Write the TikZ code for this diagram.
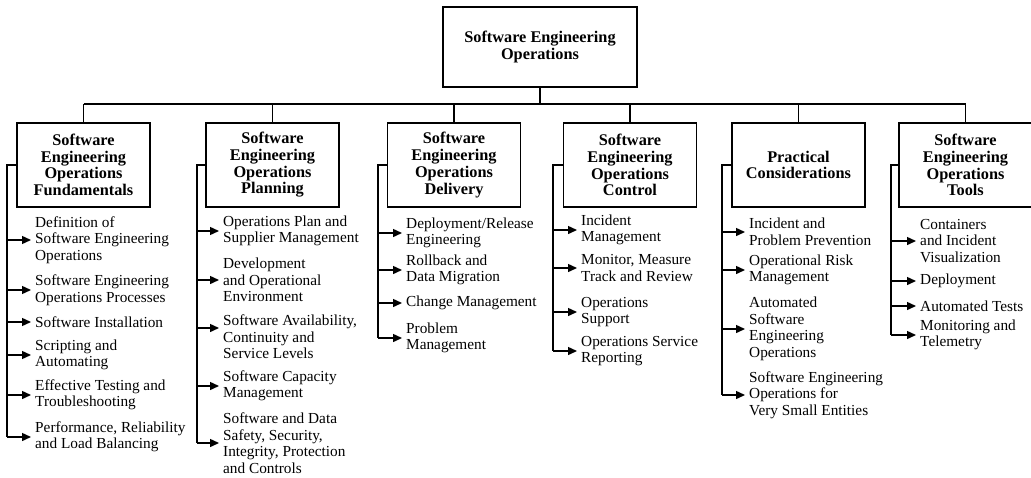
\documentclass[tikz,border=0pt]{standalone}
\usepackage{fontspec}
\setmainfont{Liberation Serif}
\usetikzlibrary{arrows.meta}

\begin{document}
\begin{tikzpicture}[x=1pt,y=-1pt,
    box/.style={draw,line width=1.5pt,minimum width=133pt,minimum height=84pt,
      align=center,inner sep=2pt,font=\fontsize{16.3}{16.7}\selectfont\bfseries},
    item/.style={anchor=west,align=left,inner xsep=4pt,inner ysep=0pt,
      font=\fontsize{15.3}{16.5}\selectfont},
    link/.style={line width=1.4pt},
    pointer/.style={line width=1.4pt,-{Triangle[length=9pt,width=8pt]}}]
        \useasboundingbox (0,0) rectangle (1031,477);

        \node[box,minimum width=194pt,minimum height=80pt] (top) at (540,47)
            {Software Engineering\\Operations};

        \node[box] (c1) at (83.5,165)  {Software\\Engineering\\Operations\\Fundamentals};
        \node[box] (c2) at (272.5,165) {Software\\Engineering\\Operations\\Planning};
        \node[box] (c3) at (454,165)   {Software\\Engineering\\Operations\\Delivery};
        \node[box] (c4) at (630,165)   {Software\\Engineering\\Operations\\Control};
        \node[box] (c5) at (798.5,165) {Practical\\Considerations};
        \node[box] (c6) at (965.5,165) {Software\\Engineering\\Operations\\Tools};

        \coordinate (bus) at (0,104);
        \coordinate (c1x) at (7,0);
        \coordinate (c2x) at (197,0);
        \coordinate (c3x) at (378,0);
        \coordinate (c4x) at (553,0);
        \coordinate (c5x) at (722,0);
        \coordinate (c6x) at (891,0);

        % fundamentals
        \node[item] (c1i1) at (31,240) {Definition of\\Software Engineering\\Operations};
        \node[item] (c1i2) at (31,290) {Software Engineering\\Operations Processes};
        \node[item] (c1i3) at (31,322) {Software Installation};
        \node[item] (c1i4) at (31,355) {Scripting and\\Automating};
        \node[item] (c1i5) at (31,395) {Effective Testing and\\Troubleshooting};
        \node[item] (c1i6) at (31,437) {Performance, Reliability\\and Load Balancing};

        % planning
        \node[item] (c2i1) at (219,231) {Operations Plan and\\Supplier Management};
        \node[item] (c2i2) at (219,280) {Development\\and Operational\\Environment};
        \node[item] (c2i3) at (219,337) {Software Availability,\\Continuity and\\Service Levels};
        \node[item] (c2i4) at (219,386) {Software Capacity\\Management};
        \node[item] (c2i5) at (219,443) {Software and Data\\Safety, Security,\\Integrity, Protection\\and Controls};

        % delivery
        \node[item] (c3i1) at (402,233) {Deployment/Release\\Engineering};
        \node[item] (c3i2) at (402,270) {Rollback and\\Data Migration};
        \node[item] (c3i3) at (402,303) {Change Management};
        \node[item] (c3i4) at (402,338) {Problem\\Management};

        % control
        \node[item] (c4i1) at (577,230) {Incident\\Management};
        \node[item] (c4i2) at (577,268) {Monitor, Measure\\Track and Review};
        \node[item] (c4i3) at (577,312) {Operations\\Support};
        \node[item] (c4i4) at (577,351) {Operations Service\\Reporting};

        % practical considerations
        \node[item] (c5i1) at (745,232) {Incident and\\Problem Prevention};
        \node[item] (c5i2) at (745,270) {Operational Risk\\Management};
        \node[item] (c5i3) at (745,329) {Automated\\Software\\Engineering\\Operations};
        \node[item] (c5i4) at (745,395) {Software Engineering\\Operations for\\Very Small Entities};

        % tools
        \node[item] (c6i1) at (916,241) {Containers\\and Incident\\Visualization};
        \node[item] (c6i2) at (916,281) {Deployment};
        \node[item] (c6i3) at (916,306) {Automated Tests};
        \node[item] (c6i4) at (916,335) {Monitoring and\\Telemetry};

        \draw[link] (top.south) -- (top.south |- bus);
        \draw[link] (c1.north |- bus) -- (c6.north |- bus);
        \foreach \col in {c1,c2,c3,c4,c5,c6}
            \draw[link] (\col.north |- bus) -- (\col.north);

        \foreach \col/\n in {c1/6,c2/5,c3/4,c4/4,c5/4,c6/4}
            \draw[link] (\col.west) -- (\col.west -| \col x) -- (\col x |- \col i\n.west);
        \foreach \col/\n in {c1/6,c3/4,c4/4,c5/4,c6/4}
            \foreach \i in {1,...,\n}
                \draw[pointer] (\col x |- \col i\i.west) -- (\col i\i.west);

        % planning arrows, the third one sits high
        \foreach \i in {1,2,4,5}
            \draw[pointer] (c2x |- c2i\i.west) -- (c2i\i.west);
        \draw[pointer] (c2x |- 0,328) -- (c2i3.west |- 0,328);

\end{tikzpicture}
\end{document}
